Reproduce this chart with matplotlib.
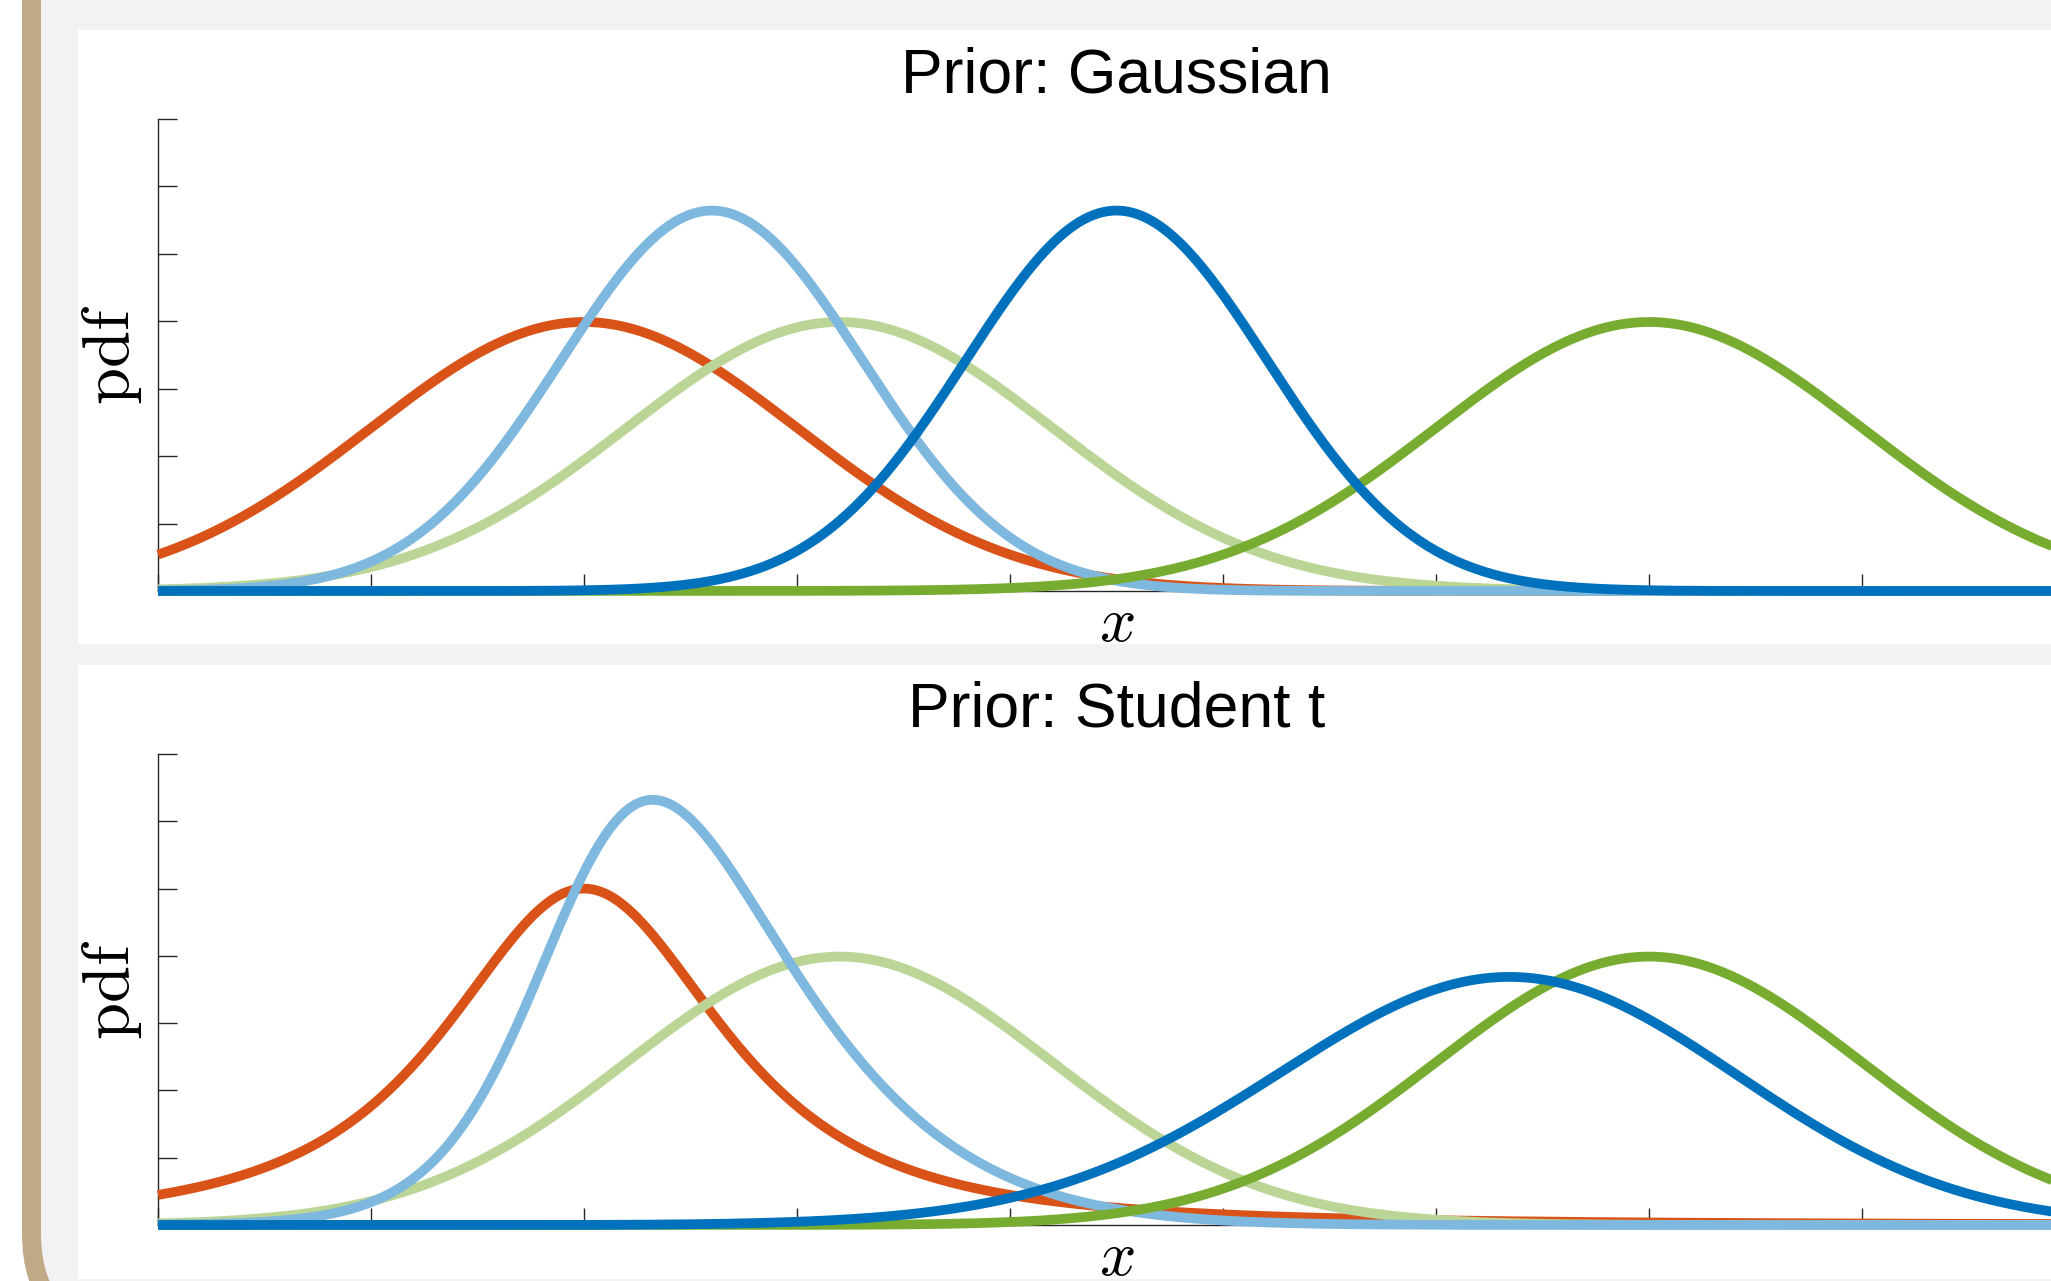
import math
import numpy as np
import matplotlib
matplotlib.use("Agg")
import matplotlib.pyplot as plt
from matplotlib.patches import FancyBboxPatch, Rectangle

# ---------------- data ----------------
prior_mean = 2.0
prior_sigma_gauss = 1.0          # Gaussian prior std
prior_t_df = 2.0                 # Student t prior degrees of freedom
prior_t_scale = 0.7071           # Student t prior scale
observations = [3.2, 7.0]        # likelihood centres
lik_sigma = 1.0
titles = ["Prior: Gaussian", "Prior: Student t"]
x_ticks = list(range(0, 10))
y_ticks = [0.0, 0.1, 0.2, 0.3, 0.4, 0.5, 0.6, 0.7]

# ---------------- styles ----------------
c_prior = "#D95319"
c_lik = ["#BBD597", "#77AC30"]
c_post = ["#7FB8DE", "#0072BD"]

W, H, DPI = 2051, 1281, 200
plt.rcParams["mathtext.fontset"] = "cm"
PX = 72.0 / DPI  # points per pixel


def gauss(x, m, s):
    return np.exp(-0.5 * ((x - m) / s) ** 2) / (s * np.sqrt(2 * np.pi))


def student_t(x, m, s, nu):
    c = math.gamma((nu + 1) / 2) / (math.sqrt(nu * math.pi) * math.gamma(nu / 2) * s)
    return c * (1 + ((x - m) / s) ** 2 / nu) ** (-(nu + 1) / 2)


x = np.linspace(0, 9.6, 2400)
xw = np.linspace(-60, 70, 200001)

fig = plt.figure(figsize=(W / DPI, H / DPI), dpi=DPI, facecolor="white")

# background frame
bg = fig.add_axes([0, 0, 1, 1], zorder=-5)
bg.set_xlim(0, W)
bg.set_ylim(H, 0)
bg.axis("off")
frame = FancyBboxPatch((31.5, -400), 3000, 1333.5 + 400,
                       boxstyle="round,pad=0,rounding_size=100.5",
                       fc="#F2F2F4", ec="#C0A985", lw=19 * PX)
bg.add_patch(frame)
bg.add_patch(Rectangle((78, 30), 3000, 614, fc="white", ec="none"))
bg.add_patch(Rectangle((78, 665), 3000, 614, fc="white", ec="none"))

# axes positions in pixels: left, right, top, bottom
ax_px = [(158, 2075, 119, 591), (158, 2075, 754, 1225)]

for k in range(2):
    l, r, t, b = ax_px[k]
    ax = fig.add_axes([l / W, 1 - b / H, (r - l) / W, (b - t) / H])
    ax.patch.set_alpha(0)

    if k == 0:
        prior = gauss(x, prior_mean, prior_sigma_gauss)
    else:
        prior = student_t(x, prior_mean, prior_t_scale, prior_t_df)
    ax.plot(x, prior, color=c_prior, lw=3.5, zorder=3, clip_on=False,
            solid_capstyle="butt")

    for i, obs in enumerate(observations):
        lik = gauss(x, obs, lik_sigma)
        if k == 0:
            v0 = prior_sigma_gauss ** 2
            vl = lik_sigma ** 2
            pv = 1 / (1 / v0 + 1 / vl)
            pm = pv * (prior_mean / v0 + obs / vl)
            post = gauss(x, pm, np.sqrt(pv))
        else:
            pw = gauss(xw, obs, lik_sigma) * student_t(xw, prior_mean, prior_t_scale, prior_t_df)
            z = np.trapezoid(pw, xw)
            post = gauss(x, obs, lik_sigma) * student_t(x, prior_mean, prior_t_scale, prior_t_df) / z
        ax.plot(x, lik, color=c_lik[i], lw=3.5, zorder=3, clip_on=False,
                solid_capstyle="butt")
        ax.plot(x, post, color=c_post[i], lw=3.5, zorder=3, clip_on=False,
                solid_capstyle="butt")

    ax.set_xlim(0, 9)
    ax.set_ylim(0, 0.7)
    ax.set_xticks(x_ticks)
    ax.set_yticks(y_ticks)
    ax.set_xticklabels([])
    ax.set_yticklabels([])
    ax.tick_params(axis="both", direction="in", width=0.5, color="#262626")
    ax.tick_params(axis="y", length=19 * PX)
    ax.tick_params(axis="x", length=17 * PX)
    for s in ["top", "right"]:
        ax.spines[s].set_visible(False)
    for s in ["left", "bottom"]:
        ax.spines[s].set_color("#262626")
        ax.spines[s].set_linewidth(0.5)
    ax.set_title(titles[k], fontsize=22.5, family=["Liberation Sans", "DejaVu Sans"],
                 pad=27 * PX, color="black")
    ax.set_xlabel(r"$x$", fontsize=23, labelpad=-3)
    ax.set_ylabel(r"$\mathrm{pdf}$", fontsize=24, labelpad=1.5)

fig.savefig("out.png", dpi=DPI, facecolor="white")
